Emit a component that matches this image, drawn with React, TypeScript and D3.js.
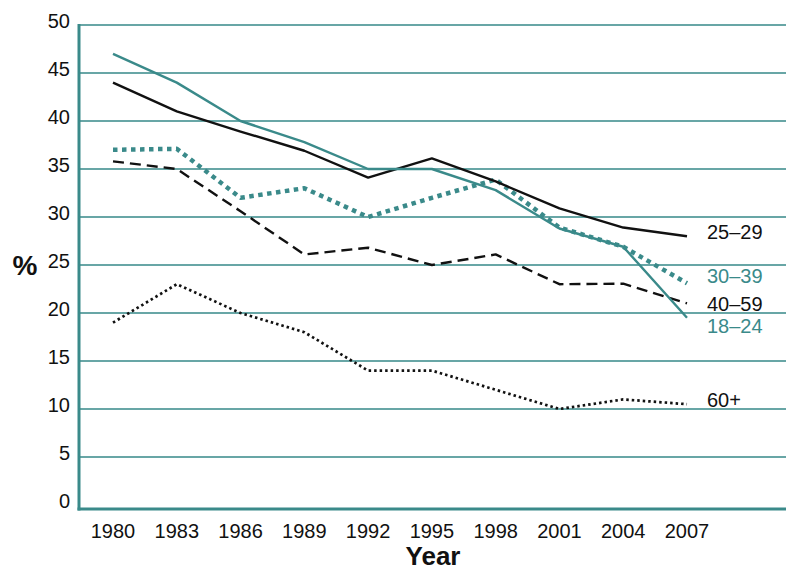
import React from "react";
import * as d3 from "d3";

const years = [1980, 1983, 1986, 1989, 1992, 1995, 1998, 2001, 2004, 2007];
const s18_24 = [47, 44, 40, 37.8, 35, 35, 32.8, 28.8, 26.9, 19.5];
const s25_29 = [44, 41, 38.9, 36.9, 34.1, 36.1, 33.7, 30.9, 28.9, 28];
const s30_39 = [37, 37.1, 32, 33, 30, 32, 33.9, 28.9, 26.9, 23.1];
const s40_59 = [35.8, 35, 30.6, 26.1, 26.8, 25, 26.1, 23, 23.05, 21];
const s60 = [19, 23, 20, 18, 14, 14, 12, 10, 11, 10.5];
const yTicks = [0, 5, 10, 15, 20, 25, 30, 35, 40, 45, 50];

const TEAL = "#3a8a8a";
const GRID = "#68a6a6";
const FONT = "'Liberation Sans', Arial, Helvetica, sans-serif";

const series = [
  { name: "60+", values: s60, color: "#111", width: 2.7, dash: "2.5,3", labelY: 10.9 },
  { name: "40–59", values: s40_59, color: "#111", width: 2.4, dash: "11,6", labelY: 20.9 },
  { name: "30–39", values: s30_39, color: TEAL, width: 4.5, dash: "4.5,4.5", labelY: 23.85 },
  { name: "25–29", values: s25_29, color: "#111", width: 2.4, dash: null, labelY: 28.4 },
  { name: "18–24", values: s18_24, color: TEAL, width: 2.4, dash: null, labelY: 18.65 },
];

export default function App() {
  const W = 798, H = 577;
  const x = d3.scaleLinear().domain([1980, 2007]).range([113, 687]);
  const y = d3.scaleLinear().domain([0, 50]).range([505, 25]);
  const left = 79, right = 786;
  const line = d3.line<number>().x((_, i) => x(years[i])).y((v) => y(v));
  return (
    <svg width={W} height={H} style={{ position: "absolute", left: 0, top: 0, background: "#fff" }}>
      {yTicks.filter((t) => t > 0).map((t) => (
        <line key={t} x1={left} x2={right} y1={y(t)} y2={y(t)} stroke={GRID} strokeWidth={2.2} />
      ))}
      <line x1={left} x2={left} y1={y(50) - 1} y2={y(0) + 5.5} stroke={TEAL} strokeWidth={3} />
      <line x1={left - 1.5} x2={right} y1={y(0) + 4} y2={y(0) + 4} stroke={TEAL} strokeWidth={3} />
      {yTicks.map((t) => (
        <text key={t} x={70} y={y(t) + 3} textAnchor="end" fontFamily={FONT} fontSize={20} fill="#111">{t}</text>
      ))}
      {years.map((yr) => (
        <text key={yr} x={x(yr)} y={538} textAnchor="middle" fontFamily={FONT} fontSize={20} fill="#111">{yr}</text>
      ))}
      <text x={433} y={565} textAnchor="middle" fontFamily={FONT} fontSize={26} fontWeight="bold" fill="#111">Year</text>
      <text x={25} y={275} textAnchor="middle" fontFamily={FONT} fontSize={28} fontWeight="bold" fill="#111">%</text>
      {series.map((s) => (
        <path key={s.name} d={line(s.values) || ""} fill="none" stroke={s.color} strokeWidth={s.width}
          strokeDasharray={s.dash || undefined} strokeLinejoin="round" />
      ))}
      {series.map((s) => (
        <text key={s.name + "l"} x={707} y={y(s.labelY) + 7} fontFamily={FONT} fontSize={20}
          fill={s.color === TEAL ? TEAL : "#111"}>{s.name}</text>
      ))}
    </svg>
  );
}
